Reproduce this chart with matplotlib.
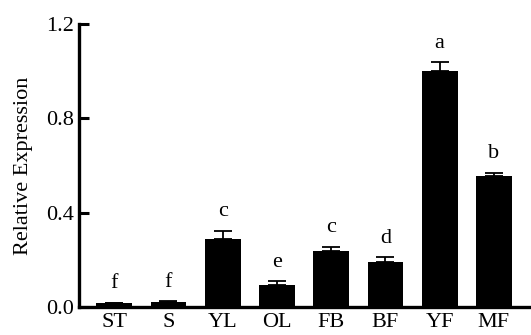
import matplotlib
matplotlib.use("Agg")
import matplotlib.pyplot as plt
import numpy as np

categories = ["ST", "S", "YL", "OL", "FB", "BF", "YF", "MF"]
values = [0.016, 0.022, 0.290, 0.093, 0.237, 0.192, 1.002, 0.557]
errors = [0.003, 0.002, 0.034, 0.017, 0.019, 0.021, 0.035, 0.013]
letters = ["f", "f", "c", "e", "c", "d", "a", "b"]
yticks = [0.0, 0.4, 0.8, 1.2]
ytick_labels = ["0.0", "0.4", "0.8", "1.2"]

plt.rcParams['font.family'] = ['Liberation Serif', 'DejaVu Serif']

fig = plt.figure(figsize=(5.31, 3.35), dpi=100)
ax = fig.add_axes([0.149, 0.0836, 0.851, 0.8448])

x = np.arange(len(categories))
ax.bar(x, values, width=0.66, color='black', zorder=2)
ax.errorbar(x, values, yerr=[np.zeros(len(errors)), errors], fmt='none',
            ecolor='black', elinewidth=1.3, capsize=6.5, capthick=1.3, zorder=3)

for xi, v, e, l in zip(x, values, errors, letters):
    ax.annotate(l, (xi, v + e), xytext=(0, 13.5), textcoords='offset points',
                ha='center', va='center', fontsize=16)

ax.set_xlim(-0.648, 7.685)
ax.set_ylim(0, 1.2)
ax.set_yticks(yticks)
ax.set_yticklabels(ytick_labels, fontsize=16)
ax.set_xticks(x)
ax.set_xticklabels(categories, fontsize=16)
ax.tick_params(axis='x', length=0, pad=4)
ax.tick_params(axis='y', direction='in', length=7.5, width=2.2, pad=4)
for s in ['top', 'right']:
    ax.spines[s].set_visible(False)
for s in ['left', 'bottom']:
    ax.spines[s].set_linewidth(2.4)
ax.set_ylabel("Relative Expression", fontsize=16, labelpad=9)

fig.savefig("out.png", dpi=100)
